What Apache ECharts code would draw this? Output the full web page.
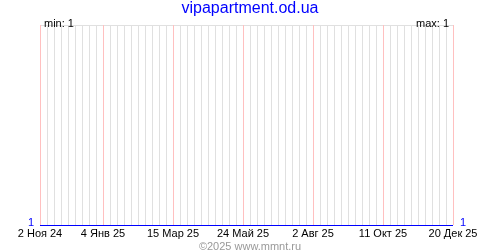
<!DOCTYPE html>
<html><head><meta charset="utf-8">
<script src="https://cdn.jsdelivr.net/npm/echarts@6/dist/echarts.min.js"></script>
<style>html,body{margin:0;padding:0;background:#fff}#c{width:500px;height:250px}</style>
</head><body><div id="c"></div>
<script>
const titleText = 'vipapartment.od.ua';
const copyright = '©2025 www.mmnt.ru';
const startDate = '2024-11-02';
const endDate = '2025-12-20';
const pointDates = ['2024-11-02', '2025-12-20'];
const pointValues = [1, 1];
const tickDates = ['2024-11-02', '2025-01-04', '2025-03-15', '2025-05-24', '2025-08-02', '2025-10-11', '2025-12-20'];
const tickLabels = ['2 Ноя 24', '4 Янв 25', '15 Мар 25', '24 Май 25', '2 Авг 25', '11 Окт 25', '20 Дек 25'];

const DAY = 86400000;
const dayIdx = d => Math.round((Date.parse(d + 'T00:00:00Z') - Date.parse(startDate + 'T00:00:00Z')) / DAY);
const xMax = dayIdx(endDate);
const tickPos = tickDates.map(dayIdx);
const seriesData = pointDates.map((d, i) => [dayIdx(d), pointValues[i]]);
const vMin = Math.min(...pointValues), vMax = Math.max(...pointValues);
const font = 'Liberation Sans, Arial, sans-serif';
const crisp = v => Math.round(v - 0.5) + 0.5;

const chart = echarts.init(document.getElementById('c'), null, {renderer: 'canvas'});
chart.setOption({
  animation: false,
  backgroundColor: '#fff',
  title: [
    {text: titleText, left: 'center', top: -4, textStyle: {color: '#0000ff', fontFamily: font, fontSize: 16, fontWeight: 'normal'}},
    {text: 'min: ' + vMin, left: 39, top: 13, textStyle: {color: '#000', fontFamily: font, fontSize: 11, fontWeight: 'normal'}},
    {text: 'max: ' + vMax, right: 46, top: 13, textStyle: {color: '#000', fontFamily: font, fontSize: 11, fontWeight: 'normal'}},
    {text: copyright, left: 'center', top: 236, textStyle: {color: '#999', fontFamily: font, fontSize: 11, fontWeight: 'normal'}}
  ],
  grid: {left: 40, right: 47, top: 25, bottom: 25, containLabel: false},
  xAxis: {
    type: 'value', min: 0, max: xMax, interval: 7,
    axisLine: {show: false}, axisTick: {show: false},
    splitLine: {show: true, lineStyle: {color: '#e0e0e0', width: 1}},
    axisLabel: {
      customValues: tickPos, margin: 3, color: '#000', fontFamily: font, fontSize: 11,
      formatter: v => tickLabels[tickPos.indexOf(v)] || ''
    }
  },
  yAxis: [
    {type: 'value', min: 1, max: 2, interval: 1, position: 'left',
     axisLine: {show: false}, axisTick: {show: false},
     splitLine: {show: true, lineStyle: {color: '#e0e0e0'}},
     axisLabel: {customValues: [vMin], color: '#0000ff', fontFamily: font, fontSize: 11, margin: 6, verticalAlign: 'bottom', padding: [0,0,-3,0]}},
    {type: 'value', min: 1, max: 2, interval: 1, position: 'right',
     axisLine: {show: false}, axisTick: {show: false}, splitLine: {show: false},
     axisLabel: {customValues: [vMax], color: '#0000ff', fontFamily: font, fontSize: 11, margin: 7, verticalAlign: 'bottom', padding: [0,0,-3,0]}}
  ],
  series: [
    {
      type: 'custom', silent: true, z: 3, clip: false,
      encode: {x: 0, y: 1},
      data: tickPos.map(x => [x, 1]),
      renderItem: (params, api) => {
        const p1 = api.coord([api.value(0), 1]);
        const p2 = api.coord([api.value(0), 2]);
        const x = crisp(p1[0]);
        return {type: 'line', shape: {x1: x, y1: p2[1], x2: x, y2: p1[1]}, style: {stroke: '#ffc0c0', lineWidth: 1}};
      }
    },
    {
      type: 'custom', silent: true, z: 5, clip: false,
      encode: {x: 0, y: 1},
      data: seriesData,
      renderItem: (params, api) => {
        const i = params.dataIndex;
        if (i >= seriesData.length - 1) return null;
        const a = api.coord([api.value(0), api.value(1)]);
        const b = api.coord(seriesData[i + 1]);
        return {type: 'line', shape: {x1: a[0], y1: crisp(a[1]), x2: b[0], y2: crisp(b[1])}, style: {stroke: '#0000ff', lineWidth: 1}};
      }
    }
  ]
});
</script></body></html>
